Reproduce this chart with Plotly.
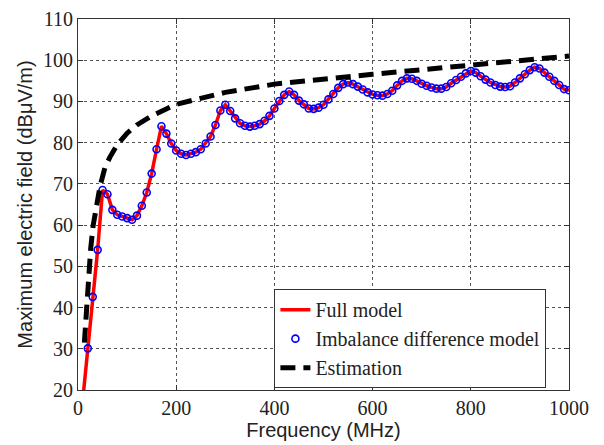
import plotly.graph_objects as go

# ---- data ----
freq_mhz = [10, 20, 30, 40, 50, 60, 70, 80, 90, 100,
            110, 120, 130, 140, 150, 160, 170, 180, 190, 200,
            210, 220, 230, 240, 250, 260, 270, 280, 290, 300,
            310, 320, 330, 340, 350, 360, 370, 380, 390, 400,
            410, 420, 430, 440, 450, 460, 470, 480, 490, 500,
            510, 520, 530, 540, 550, 560, 570, 580, 590, 600,
            610, 620, 630, 640, 650, 660, 670, 680, 690, 700,
            710, 720, 730, 740, 750, 760, 770, 780, 790, 800,
            810, 820, 830, 840, 850, 860, 870, 880, 890, 900,
            910, 920, 930, 940, 950, 960, 970, 980, 990, 1000]

full_model = [18.0, 30.1, 42.6, 54.0, 68.5, 67.5, 63.7, 62.5, 62.1, 61.7,
              61.3, 62.3, 64.7, 67.9, 72.5, 78.4, 84.0, 82.2, 79.8, 78.1,
              77.3, 77.0, 77.3, 77.7, 78.4, 79.8, 81.5, 84.3, 87.8, 89.2,
              87.7, 85.9, 84.7, 84.1, 83.9, 84.1, 84.5, 85.3, 86.5, 88.3,
              90.1, 91.6, 92.4, 91.6, 90.2, 89.3, 88.3, 88.2, 88.5, 89.2,
              90.5, 91.8, 93.3, 94.2, 94.6, 94.2, 93.6, 92.9, 92.2, 91.7,
              91.5, 91.4, 91.8, 92.6, 93.9, 95.0, 95.6, 95.5, 95.0, 94.3,
              93.8, 93.4, 93.1, 93.1, 93.5, 94.4, 95.2, 96.0, 96.8, 97.4,
              97.0, 96.1, 95.3, 94.6, 94.0, 93.6, 93.5, 93.7, 94.6, 95.6,
              96.6, 97.6, 98.3, 98.0, 97.0, 96.0, 95.0, 94.0, 93.0, 92.7]

imbalance_model = [18.0, 30.1, 42.6, 54.0, 68.5, 67.5, 63.7, 62.5, 62.1, 61.7,
                   61.3, 62.3, 64.7, 67.9, 72.5, 78.4, 84.0, 82.2, 79.8, 78.1,
                   77.3, 77.0, 77.3, 77.7, 78.4, 79.8, 81.5, 84.3, 87.8, 89.2,
                   87.7, 85.9, 84.7, 84.1, 83.9, 84.1, 84.5, 85.3, 86.5, 88.3,
                   90.1, 91.6, 92.4, 91.6, 90.2, 89.3, 88.3, 88.2, 88.5, 89.2,
                   90.5, 91.8, 93.3, 94.2, 94.6, 94.2, 93.6, 92.9, 92.2, 91.7,
                   91.5, 91.4, 91.8, 92.6, 93.9, 95.0, 95.6, 95.5, 95.0, 94.3,
                   93.8, 93.4, 93.1, 93.1, 93.5, 94.4, 95.2, 96.0, 96.8, 97.4,
                   97.0, 96.1, 95.3, 94.6, 94.0, 93.6, 93.5, 93.7, 94.6, 95.6,
                   96.6, 97.6, 98.3, 98.0, 97.0, 96.0, 95.0, 94.0, 93.0, 92.7]

est_freq_mhz = [13, 15, 18, 22, 26, 31, 38, 45, 55, 65, 80, 100, 120, 150,
                200, 250, 300, 400, 500, 600, 700, 800, 900, 1000]
estimation = [31.5, 35.0, 41.0, 49.0, 54.5, 60.0, 65.5, 69.5, 74.0, 76.5,
              79.5, 82.3, 84.3, 86.5, 89.3, 90.8, 92.2, 94.2, 95.5, 96.6,
              97.7, 98.9, 100.0, 101.0]

x_ticks = [0, 200, 400, 600, 800, 1000]
y_ticks = [20, 30, 40, 50, 60, 70, 80, 90, 100, 110]

SERIF = "Liberation Serif, Times New Roman, Times, serif"
SANS = "Liberation Sans, Arial, Helvetica, sans-serif"

fig = go.Figure()
fig.add_trace(go.Scatter(x=freq_mhz, y=full_model, mode="lines", name="Full model",
                         line=dict(color="#ff0000", width=3.5)))
fig.add_trace(go.Scatter(x=freq_mhz, y=imbalance_model, mode="markers",
                         name="Imbalance difference model",
                         marker=dict(symbol="circle-open", color="#0000ff", size=7,
                                     line=dict(width=1.6, color="#0000ff"))))
fig.add_trace(go.Scatter(x=est_freq_mhz, y=estimation, mode="lines", name="Estimation",
                         line=dict(color="black", width=5, dash="15px,8px")))

axis_common = dict(showline=True, linecolor="#333", linewidth=1, mirror="ticks",
                   ticks="inside", ticklen=5, tickcolor="#333",
                   showgrid=True, gridcolor="#555", griddash="dot", gridwidth=1,
                   zeroline=False, automargin=False, ticklabeloverflow="allow",
                   tickfont=dict(family=SERIF, size=20, color="#222"))

fig.update_xaxes(range=[0, 1000], tickvals=x_ticks,
                 title=dict(text="Frequency (MHz)", standoff=4,
                            font=dict(family=SANS, size=20, color="#222")),
                 **axis_common)
fig.update_yaxes(range=[20, 110], tickvals=y_ticks,
                 title=dict(text="Maximum electric field (dBμV/m)", standoff=5,
                            font=dict(family=SANS, size=20, color="#222")),
                 **axis_common)

# page body has an 8px default margin, so margins are offset to compensate
fig.update_layout(
    width=604, height=445,
    margin=dict(l=70, r=43, t=11, b=63),
    plot_bgcolor="white", paper_bgcolor="white",
    legend=dict(x=0.40, y=0.005, xanchor="left", yanchor="bottom",
                bgcolor="white", bordercolor="#333", borderwidth=1,
                font=dict(family=SERIF, size=20, color="#222"),
                tracegroupgap=0, itemwidth=30),
    showlegend=True,
)

fig.write_html("out.html")
